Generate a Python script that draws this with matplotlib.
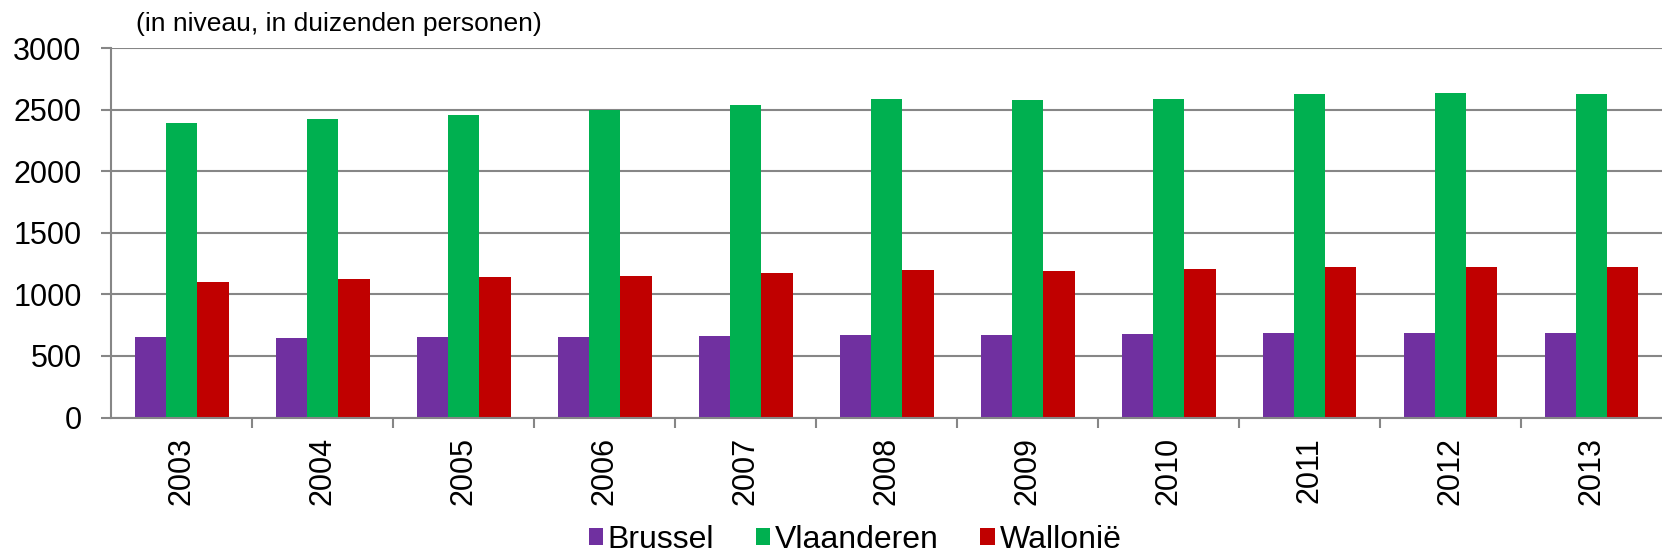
import numpy as np
import matplotlib
matplotlib.use('Agg')
import matplotlib.pyplot as plt
from matplotlib.ticker import FixedLocator

plt.rcParams['font.family'] = ['Liberation Sans', 'DejaVu Sans']

years = ['2003', '2004', '2005', '2006', '2007', '2008',
         '2009', '2010', '2011', '2012', '2013']
brussel = [652, 649, 657, 652, 663, 671, 671, 677, 685, 685, 685]
vlaanderen = [2392, 2422, 2455, 2495, 2541, 2587,
              2579, 2592, 2625, 2636, 2627]
wallonie = [1104, 1123, 1140, 1153, 1172, 1196,
            1188, 1205, 1221, 1226, 1221]

series = [
    ('Brussel', brussel, '#7030A0'),
    ('Vlaanderen', vlaanderen, '#00B050'),
    ('Wallonië', wallonie, '#C00000')]

grey = '#868686'

fig = plt.figure(figsize=[16.62, 5.56], dpi=100)
ax = fig.add_axes([111 / 1662, (556 - 417.5) / 556,
                   1 - 111 / 1662, (417.5 - 48.3) / 556])

x = np.arange(len(years))
width = 1 / 4.5
for i, (name, values, colour) in enumerate(series):
    ax.bar(
        x + (i - 1) * width,
        values,
        width,
        color=colour,
        label=name,
        zorder=2)

ax.set_xlim(-0.5, len(years) - 0.5)
ax.set_ylim(0, 3000)
ax.set_yticks(range(0, 3001, 500))
ax.set_xticks(x)
ax.set_xticklabels(years, rotation=90)
ax.xaxis.set_minor_locator(FixedLocator(np.arange(0.5, len(years) - 0.5, 1)))

ax.set_axisbelow(True)
ax.grid(True, axis='y', color=grey, linewidth=1.5)
for side in ['top', 'right']:
    ax.spines[side].set_visible(False)
for side in ['left', 'bottom']:
    ax.spines[side].set_color(grey)
    ax.spines[side].set_linewidth(1.5)

ax.tick_params(
    axis='y',
    labelsize=22,
    length=7.2,
    width=1.5,
    color=grey,
    pad=14)
ax.tick_params(
    axis='x',
    which='major',
    labelsize=22,
    length=0,
    pad=14)
ax.tick_params(
    axis='x',
    which='minor',
    length=7,
    width=1.5,
    color=grey)

fig.text(
    136 / 1662,
    1 - 24 / 556,
    '(in niveau, in duizenden personen)',
    fontsize=19,
    va='center',
    ha='left')

fig.legend(
    loc='center',
    bbox_to_anchor=(855 / 1662, 1 - 540 / 556),
    ncol=3,
    frameon=False,
    fontsize=23,
    handlelength=0.45,
    handleheight=0.45,
    handletextpad=0.15,
    columnspacing=1.3,
    borderpad=0)

fig.savefig('out.png', dpi=100)
